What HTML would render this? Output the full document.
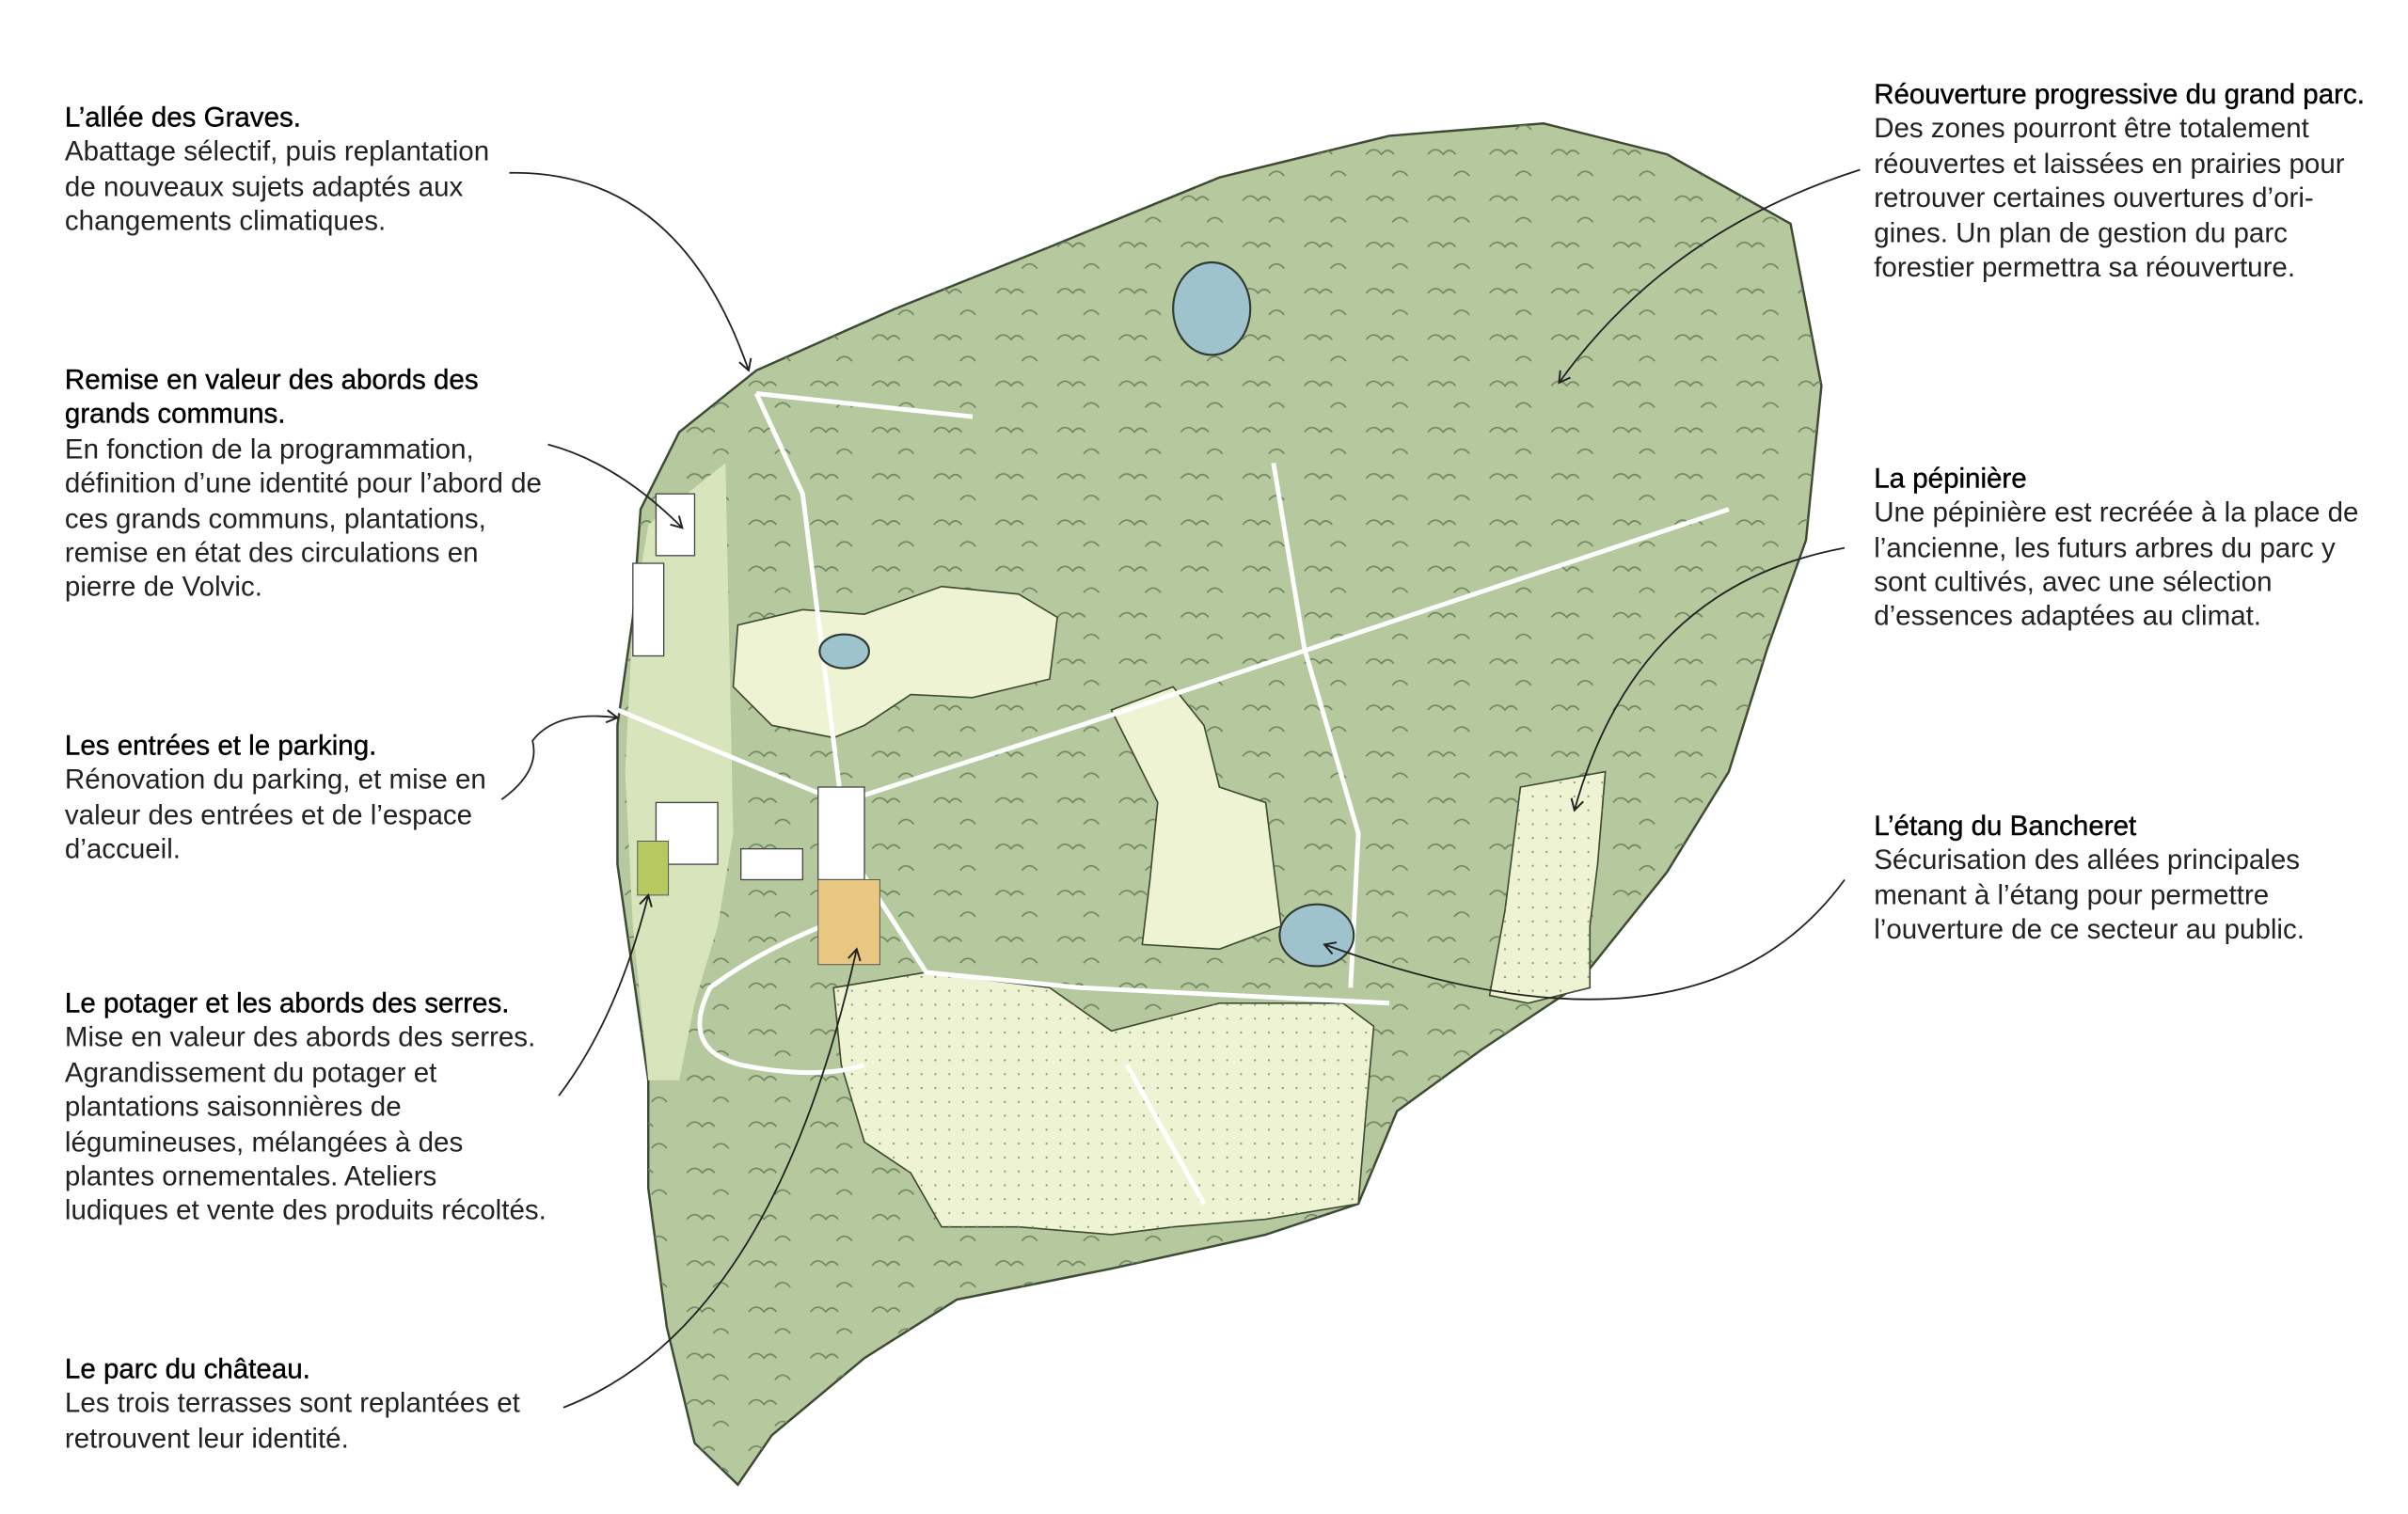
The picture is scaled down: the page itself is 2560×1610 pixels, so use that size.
<!DOCTYPE html>
<html><head><meta charset="utf-8"><style>
html,body{margin:0;padding:0;background:#fff}
svg{display:block}
text{font-family:"Liberation Sans",sans-serif;font-size:18px;fill:#222}
.t{fill:#000;stroke:#000;stroke-width:0.25}
</style></head><body>
<svg width="2560" height="1610" viewBox="0 0 1560 981" preserveAspectRatio="none" xmlns="http://www.w3.org/2000/svg">
<defs>
<marker id="a" markerWidth="10" markerHeight="10" refX="8" refY="5" orient="auto" markerUnits="userSpaceOnUse"><path d="M1,1 L8,5 L1,9" fill="none" stroke="#222" stroke-width="1.2"/></marker>
<pattern id="h" width="40" height="30" patternUnits="userSpaceOnUse"><path d="M5,10 q5,-6 10,0 q4,-5 8,0 M22,24 q5,-6 10,0" fill="none" stroke="#6f8560" stroke-width="1"/></pattern>
<pattern id="d" width="9" height="9" patternUnits="userSpaceOnUse"><circle cx="3" cy="3" r="0.7" fill="#8a9a70"/></pattern>
</defs>
<path d="M415,330 L440,280 L490,240 L580,200 L680,160 L790,115 L900,88 L1000,80 L1080,100 L1160,145 L1180,250 L1170,350 L1145,420 L1120,500 L1080,565 L1020,640 L960,680 L905,720 L880,780 L820,800 L720,822 L620,842 L560,880 L500,930 L478,962 L450,935 L432,860 L420,770 L420,700 L410,630 L400,560 L400,470 L410,400 Z" fill="#b6c89d" stroke="#3e4a34" stroke-width="1.5"/>
<path d="M415,330 L440,280 L490,240 L580,200 L680,160 L790,115 L900,88 L1000,80 L1080,100 L1160,145 L1180,250 L1170,350 L1145,420 L1120,500 L1080,565 L1020,640 L960,680 L905,720 L880,780 L820,800 L720,822 L620,842 L560,880 L500,930 L478,962 L450,935 L432,860 L420,770 L420,700 L410,630 L400,560 L400,470 L410,400 Z" fill="url(#h)"/>
<g fill="#eef3d3" stroke="#3e4a34" stroke-width="1">
<path d="M478,405 L520,395 L560,398 L610,380 L660,385 L685,400 L680,440 L630,452 L590,450 L560,470 L540,478 L500,470 L475,445 Z"/>
<path d="M720,460 L760,445 L780,470 L790,510 L820,520 L825,560 L830,600 L790,615 L740,612 L745,570 L750,520 L735,490 Z"/>
<path d="M540,640 L600,630 L680,640 L720,668 L790,650 L870,650 L890,665 L885,720 L880,780 L820,790 L760,795 L720,800 L660,795 L610,795 L590,760 L560,740 L545,690 Z"/>
<path d="M985,510 L1040,500 L1035,560 L1030,600 L1030,640 L990,650 L965,645 L975,590 Z"/>
</g>
<path d="M420,340 L470,300 L475,540 L465,600 L450,650 L440,700 L420,700 L410,600 L405,500 L410,400 Z" fill="#d8e4bc" stroke="none"/>
<path d="M540,640 L600,630 L680,640 L720,668 L790,650 L870,650 L890,665 L885,720 L880,780 L820,790 L760,795 L720,800 L660,795 L610,795 L590,760 L560,740 L545,690 Z" fill="url(#d)"/>
<path d="M985,510 L1040,500 L1035,560 L1030,600 L1030,640 L990,650 L965,645 L975,590 Z" fill="url(#d)"/>
<g fill="none" stroke="#fff" stroke-width="3">
<path d="M400,460 L545,520 L700,470 L850,420 L1120,330"/>
<path d="M825,300 L845,420 L880,540 L875,640"/>
<path d="M490,255 L520,320 L545,520"/>
<path d="M490,255 L630,270"/>
<path d="M545,520 L555,560 L600,630 L700,640 L900,650"/>
<path d="M560,590 Q500,610 460,640 Q440,680 480,690 Q530,700 560,690"/>
<path d="M730,690 L780,780"/>
</g>
<g fill="#fff" stroke="#444" stroke-width="0.8">
<rect x="425" y="320" width="25" height="40"/>
<rect x="410" y="365" width="20" height="60"/>
<rect x="425" y="520" width="40" height="40"/>
<rect x="530" y="510" width="30" height="60"/>
<rect x="480" y="550" width="40" height="20"/>
</g>
<rect x="530" y="570" width="40" height="55" fill="#e8c880" stroke="#555" stroke-width="0.6"/>
<rect x="413" y="545" width="20" height="35" fill="#b8c860" stroke="#555" stroke-width="0.6"/>
<g fill="#9ec3cc" stroke="#2f3a33" stroke-width="1.3">
<ellipse cx="785" cy="200" rx="25" ry="30"/>
<ellipse cx="547" cy="422" rx="16" ry="11"/>
<ellipse cx="853" cy="606" rx="24" ry="20"/>
</g>
<g fill="none" stroke="#222" stroke-width="1.1" marker-end="url(#a)">
<path d="M330,112 Q440,110 485,240"/>
<path d="M355,288 Q400,300 442,342"/>
<path d="M325,518 Q350,500 345,480 Q360,460 400,465"/>
<path d="M362,710 Q400,660 420,580"/>
<path d="M365,912 Q500,860 555,615"/>
<path d="M1205,110 Q1080,150 1010,248"/>
<path d="M1195,355 Q1060,380 1020,525"/>
<path d="M1195,570 Q1100,700 858,612"/>
</g>
<g transform="translate(42,0)">
<text class="t" x="0" y="82">L’allée des Graves.</text>
<text x="0" y="104">Abattage sélectif, puis replantation</text>
<text x="0" y="127">de nouveaux sujets adaptés aux</text>
<text x="0" y="149">changements climatiques.</text>
<text class="t" x="0" y="252">Remise en valeur des abords des</text>
<text class="t" x="0" y="274">grands communs.</text>
<text x="0" y="297">En fonction de la programmation,</text>
<text x="0" y="319">définition d’une identité pour l’abord de</text>
<text x="0" y="342">ces grands communs, plantations,</text>
<text x="0" y="364">remise en état des circulations en</text>
<text x="0" y="386">pierre de Volvic.</text>
<text class="t" x="0" y="489">Les entrées et le parking.</text>
<text x="0" y="511">Rénovation du parking, et mise en</text>
<text x="0" y="534">valeur des entrées et de l’espace</text>
<text x="0" y="556">d’accueil.</text>
<text class="t" x="0" y="656">Le potager et les abords des serres.</text>
<text x="0" y="678">Mise en valeur des abords des serres.</text>
<text x="0" y="701">Agrandissement du potager et</text>
<text x="0" y="723">plantations saisonnières de</text>
<text x="0" y="746">légumineuses, mélangées à des</text>
<text x="0" y="768">plantes ornementales. Ateliers</text>
<text x="0" y="790">ludiques et vente des produits récoltés.</text>
<text class="t" x="0" y="893">Le parc du château.</text>
<text x="0" y="915">Les trois terrasses sont replantées et</text>
<text x="0" y="938">retrouvent leur identité.</text>
</g>
<g transform="translate(1214,0)">
<text class="t" x="0" y="67">Réouverture progressive du grand parc.</text>
<text x="0" y="89">Des zones pourront être totalement</text>
<text x="0" y="112">réouvertes et laissées en prairies pour</text>
<text x="0" y="134">retrouver certaines ouvertures d’ori-</text>
<text x="0" y="157">gines. Un plan de gestion du parc</text>
<text x="0" y="179">forestier permettra sa réouverture.</text>
<text class="t" x="0" y="316">La pépinière</text>
<text x="0" y="338">Une pépinière est recréée à la place de</text>
<text x="0" y="361">l’ancienne, les futurs arbres du parc y</text>
<text x="0" y="383">sont cultivés, avec une sélection</text>
<text x="0" y="405">d’essences adaptées au climat.</text>
<text class="t" x="0" y="541">L’étang du Bancheret</text>
<text x="0" y="563">Sécurisation des allées principales</text>
<text x="0" y="586">menant à l’étang pour permettre</text>
<text x="0" y="608">l’ouverture de ce secteur au public.</text>
</g>
</svg>
</body></html>
